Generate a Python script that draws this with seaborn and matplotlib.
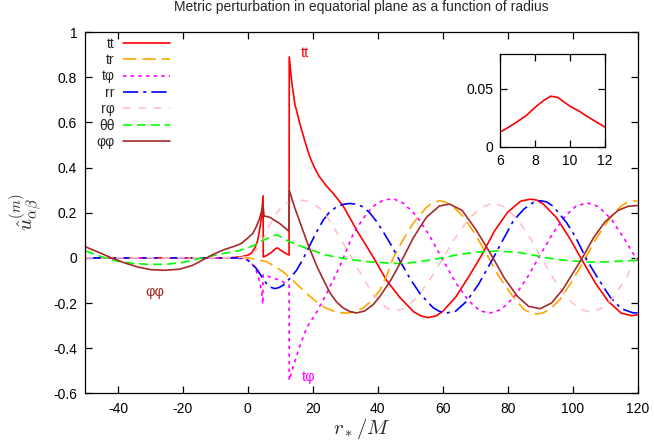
import numpy as np
import pandas as pd
import matplotlib
matplotlib.use("Agg")
import matplotlib.pyplot as plt
import seaborn as sns
from matplotlib.ticker import FuncFormatter

# ---------------- data ----------------
tt_x = [-50, -10, -5, -2, 0, 1, 2.2, 3, 3.7, 4.2, 4.7, 4.75, 5.3, 6, 6.5, 7, 7.5, 8, 8.5, 8.9, 9.3,
        10, 10.5, 11, 11.5, 12, 12.7, 12.75, 13.5, 14.5, 16, 17.5, 19, 20.5, 22, 24, 26, 27.7, 29.5,
        31.5, 33.5, 36, 38.6, 42.7, 46.8, 51, 53.5, 55.6, 58, 60, 64, 68, 72, 76, 80, 84, 87, 89,
        91, 95, 99, 103, 107, 111, 115, 118.3, 120]
tt_y = [0, 0, 0.001, 0.005, 0.012, 0.02, 0.045, 0.075, 0.13, 0.18, 0.275, 0.004, 0.007, 0.0126,
        0.017, 0.0218, 0.027, 0.034, 0.040, 0.0437, 0.0426, 0.035, 0.031, 0.026, 0.0215, 0.017,
        0.0125, 0.89, 0.78, 0.68, 0.595, 0.52, 0.45, 0.40, 0.36, 0.322, 0.29, 0.26, 0.226, 0.175,
        0.123, 0.065, 0.004, -0.099, -0.175, -0.238, -0.258, -0.264, -0.257, -0.237, -0.174,
        -0.084, 0.012, 0.12, 0.202, 0.251, 0.26, 0.256, 0.238, 0.179, 0.09, -0.012, -0.111,
        -0.193, -0.245, -0.256, -0.252]

tr_x = [-50, -5, 0, 2, 5.8, 8, 10.9, 13.5, 16, 18.5, 21.2, 24, 26.3, 28.5, 30.4, 33, 35.5, 38, 40.7,
        43, 44.8, 47, 51, 55, 57, 59.2, 61, 63, 66.4, 70, 73.6, 77, 81.8, 85, 87, 89, 91, 93,
        96.1, 100, 103.3, 107, 111.6, 115, 117, 118.7, 120]
tr_y = [0, 0, 0, -0.005, -0.017, -0.035, -0.062, -0.095, -0.129, -0.163, -0.195, -0.222, -0.235,
        -0.243, -0.245, -0.238, -0.222, -0.19, -0.143, -0.07, 0.0, 0.06, 0.155, 0.224, 0.245,
        0.253, 0.246, 0.23, 0.182, 0.105, 0.015, -0.075, -0.175, -0.228, -0.243, -0.249, -0.243,
        -0.228, -0.185, -0.10, -0.018, 0.08, 0.178, 0.23, 0.247, 0.253, 0.25]

tphi_x = [-50, -5, -2, 0, 1.5, 2.7, 3.7, 4.2, 4.6, 4.7, 7, 10, 12.7, 12.75, 14, 16, 18.1, 21, 24.2,
          28.4, 32.5, 36.6, 39, 41.7, 44.8, 48, 52, 56, 60, 64, 68, 71.5, 74.6, 78, 82, 86, 90,
          94, 98, 101, 104.4, 108, 112, 116, 120]
tphi_y = [0, 0, -0.003, -0.01, -0.03, -0.06, -0.11, -0.143, -0.205, -0.075, -0.085, -0.1, -0.12,
          -0.542, -0.48, -0.39, -0.31, -0.245, -0.16, -0.035, 0.108, 0.197, 0.232, 0.256, 0.262,
          0.241, 0.185, 0.097, -0.008, -0.11, -0.19, -0.235, -0.244, -0.229, -0.173, -0.088,
          0.012, 0.11, 0.19, 0.228, 0.244, 0.227, 0.17, 0.083, -0.012]

rr_x = [-50, -5, -2, 0, 1.1, 2.5, 3.7, 5, 5.8, 7, 8.3, 9.5, 10.9, 13, 15, 17, 18.6, 21, 23.2, 25,
        27.3, 29.3, 31.4, 33.5, 35.5, 37.5, 39.7, 41.5, 43.8, 46.3, 50, 53, 57, 59, 61.2, 64, 67.4,
        71, 75.6, 78, 81.8, 85, 88, 90, 92, 94, 98.2, 101, 104.4, 108, 111.6, 115, 118.7, 120]
rr_y = [0, 0, -0.001, -0.01, -0.025, -0.045, -0.07, -0.1, -0.114, -0.13, -0.136, -0.132, -0.121,
        -0.09, -0.055, -0.005, 0.042, 0.11, 0.167, 0.2, 0.226, 0.237, 0.241, 0.237, 0.226, 0.2,
        0.16, 0.12, 0.065, 0.0, -0.093, -0.158, -0.22, -0.237, -0.244, -0.236, -0.192, -0.118,
        0.0, 0.065, 0.165, 0.216, 0.246, 0.253, 0.248, 0.229, 0.155, 0.09, -0.01, -0.095, -0.174,
        -0.225, -0.244, -0.243]

rphi_x = [-50, -5, -2, 0, 2, 3.5, 4.7, 6.5, 8.8, 11, 13.5, 16, 18, 20, 22.2, 24.5, 27.3, 29.5, 31.4,
          33.5, 35.5, 38, 40.7, 42.7, 44.7, 48, 52, 56, 60, 64, 68, 72, 75.6, 79, 83, 87, 90.5,
          94, 98, 102, 105.4, 109, 112, 114.6, 117, 120]
rphi_y = [0, 0, 0.002, 0.006, 0.025, 0.05, 0.078, 0.14, 0.197, 0.235, 0.252, 0.256, 0.252, 0.242,
          0.218, 0.18, 0.115, 0.06, 0.015, -0.04, -0.085, -0.15, -0.195, -0.222, -0.235, -0.226,
          -0.177, -0.098, -0.004, 0.092, 0.173, 0.224, 0.244, 0.226, 0.172, 0.087, -0.002, -0.09,
          -0.173, -0.226, -0.24, -0.223, -0.184, -0.13, -0.075, 0.01]

thth_x = [-50, -47, -44, -40, -35, -30, -25, -20, -14, -8, -3, 0, 2, 4.7, 8.8, 12.9, 18.1, 24.2,
          31.4, 37.6, 45.8, 50, 55, 60, 65, 70, 76.6, 83, 88, 92, 97, 104.4, 110, 115, 120]
thth_y = [0.031, 0.015, 0.0, -0.015, -0.025, -0.029, -0.028, -0.02, 0.0, 0.018, 0.031, 0.045, 0.056,
          0.078, 0.103, 0.071, 0.042, 0.012, -0.007, -0.018, -0.025, -0.022, -0.012, 0.0, 0.015,
          0.025, 0.030, 0.025, 0.012, 0.0, -0.01, -0.018, -0.018, -0.014, -0.011]

phph_x = [-50, -46, -42, -38, -34, -30, -25.6, -21, -17, -12.7, -10, -7, -4, -2, 0, 1.5, 2.5, 3.5,
          4.2, 4.7, 5.0, 6, 7, 8, 9, 10, 11, 12.7, 12.75, 13.5, 14.5, 15.5, 17, 18.5, 20.2, 21.5,
          23.2, 25.3, 27.3, 29.4, 31.5, 33.5, 36, 38.6, 40.7, 44, 47.8, 51, 55, 59, 62.2, 66, 70,
          73, 75.5, 79, 83, 86.5, 90, 93.5, 97, 100, 103, 106.5, 110, 114, 117, 120]
phph_y = [0.049, 0.025, 0.0, -0.022, -0.04, -0.052, -0.055, -0.05, -0.033, 0.0, 0.02, 0.038, 0.052,
          0.064, 0.088, 0.108, 0.135, 0.17, 0.205, 0.232, 0.185, 0.183, 0.178, 0.168, 0.16, 0.15,
          0.138, 0.117, 0.30, 0.265, 0.22, 0.18, 0.12, 0.06, 0.0, -0.045, -0.095, -0.155, -0.195,
          -0.222, -0.238, -0.244, -0.235, -0.207, -0.17, -0.099, 0.0, 0.09, 0.18, 0.23, 0.238,
          0.21, 0.13, 0.06, 0.0, -0.09, -0.17, -0.215, -0.225, -0.2, -0.14, -0.07, 0.0, 0.09,
          0.16, 0.21, 0.228, 0.232]

labels = ["tt", "tr", "tφ", "rr", "rφ", "θθ", "φφ"]
colors = ["#ff0000", "#ffa500", "#ff00ff", "#0000ff", "#ffc0cb", "#00ff00", "#a52a2a"]
styles = ["-", (0, (9.5, 4.5)), (0, (2.5, 3.0)), (0, (11, 3.6, 2.2, 3.6)), (0, (5.5, 5.5)),
          (0, (6.5, 3.5)), "-"]
series = [(tt_x, tt_y), (tr_x, tr_y), (tphi_x, tphi_y), (rr_x, rr_y), (rphi_x, rphi_y),
          (thth_x, thth_y), (phph_x, phph_y)]

xticks = [-40, -20, 0, 20, 40, 60, 80, 100, 120]
yticks = [-0.6, -0.4, -0.2, 0, 0.2, 0.4, 0.6, 0.8, 1]

# ---------------- style ----------------
sns.set_style("ticks", {"xtick.direction": "in", "ytick.direction": "in"})
plt.rcParams["font.family"] = ["Liberation Sans", "DejaVu Sans"]
plt.rcParams["mathtext.fontset"] = "cm"
plt.rcParams["lines.scale_dashes"] = False
plt.rcParams["axes.edgecolor"] = "black"
plt.rcParams["axes.linewidth"] = 0.9

fig = plt.figure(figsize=(6.54, 4.45), dpi=100)
ax = fig.add_axes([0.1307, 0.116, 0.8441, 0.812])

for (xs, ys), lab, col, ls in zip(series, labels, colors, styles):
    df = pd.DataFrame({"x": xs, "y": ys})
    sns.lineplot(data=df, x="x", y="y", ax=ax, estimator=None, sort=False, color=col,
                 linestyle=ls, linewidth=1.2, label=lab)

ax.set_xlim(-50, 120)
ax.set_ylim(-0.6, 1.0)
ax.set_xticks(xticks)
ax.set_yticks(yticks)
fmt = FuncFormatter(lambda v, p: "%g" % round(v, 2))
ax.xaxis.set_major_formatter(fmt)
ax.yaxis.set_major_formatter(fmt)
ax.tick_params(direction="in", length=5, width=0.9, top=True, right=True, labelsize=10,
               colors="black", pad=6)
ax.set_xlabel(r"$r_*/M$", fontsize=15, labelpad=0)
ax.set_ylabel(r"$\hat{u}^{(m)}_{\alpha\beta}$", fontsize=15, labelpad=6)
ax.set_title("Metric perturbation in equatorial plane as a function of radius", fontsize=10, pad=15)

leg = ax.legend(loc="upper right", bbox_to_anchor=(0.153, 0.987), frameon=False, markerfirst=False,
                fontsize=10, handlelength=3.4, handletextpad=0.6, labelspacing=0.17,
                borderpad=0, borderaxespad=0)

ax.text(17.5, 0.906, "tt", color="#ff0000", fontsize=10.5, ha="center", va="center")
ax.text(18.8, -0.528, "tφ", color="#ff00ff", fontsize=10.5, ha="center", va="center")
ax.text(-28.7, -0.151, "φφ", color="#a52a2a", fontsize=10.5, ha="center", va="center")

# ---------------- inset ----------------
ins = fig.add_axes([0.7645, 0.670, 0.1606, 0.2085])
sns.lineplot(x=tt_x, y=tt_y, ax=ins, estimator=None, sort=False, color="#ff0000", linewidth=1.2)
ins.set_xlim(6, 12)
ins.set_ylim(0, 0.08)
ins.set_xticks([6, 8, 10, 12])
ins.set_yticks([0, 0.05])
ins.xaxis.set_major_formatter(fmt)
ins.yaxis.set_major_formatter(fmt)
ins.tick_params(direction="in", length=5, width=0.9, top=True, right=True, labelsize=10,
                colors="black", pad=5)
ins.set_xlabel("")
ins.set_ylabel("")
for s in ins.spines.values():
    s.set_visible(True)
for s in ax.spines.values():
    s.set_visible(True)

fig.savefig("out.png", dpi=100)
